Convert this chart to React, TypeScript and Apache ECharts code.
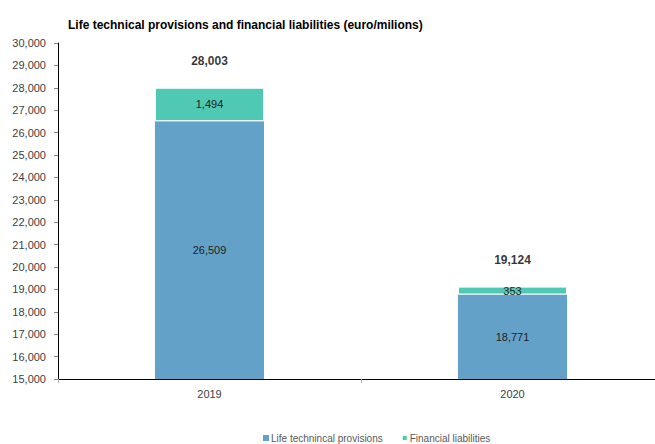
import React, { useEffect, useRef } from "react";
import * as echarts from "echarts";

const categories = ["2019", "2020"];
const lifeProvisions = [26509, 18771];
const financialLiabilities = [1494, 353];
const totals = [28003, 19124];
const seriesNames = ["Life technincal provisions", "Financial liabilities"];
const titleText = "Life technical provisions and financial liabilities (euro/milions)";

const fmt = (v: number) => v.toLocaleString("en-US");
const FONT = "Liberation Sans";

export default function App() {
  const ref = useRef<HTMLDivElement>(null);
  useEffect(() => {
    if (!ref.current) return;
    const chart = echarts.init(ref.current, undefined, { renderer: "svg" });
    chart.setOption({
      animation: false,
      backgroundColor: "#ffffff",
      title: {
        text: titleText,
        left: 63,
        top: 14,
        textStyle: { fontFamily: FONT, fontSize: 12, fontWeight: "bold", color: "#000" },
      },
      legend: {
        data: seriesNames,
        bottom: -4,
        left: 258,
        itemWidth: 6,
        itemHeight: 6,
        itemGap: 18,
        icon: "rect",
        textStyle: { fontFamily: FONT, fontSize: 10, color: "#595959", padding: [0, 0, 0, -3] },
      },
      grid: { left: 58, right: -9, top: 43, bottom: 65, outerBoundsMode: "none", containLabel: false },
      xAxis: {
        type: "category",
        data: categories,
        axisLine: { lineStyle: { color: "#000", width: 1 } },
        axisTick: { show: true, alignWithLabel: false, length: 4, lineStyle: { color: "#aaa" } },
        axisLabel: { fontFamily: FONT, fontSize: 11, color: "#404040", margin: 9 },
      },
      yAxis: {
        type: "value",
        min: 15000,
        max: 30000,
        interval: 1000,
        axisLine: { show: true, lineStyle: { color: "#000", width: 1 } },
        axisTick: { show: true, length: 4, lineStyle: { color: "#888" } },
        splitLine: { show: false },
        axisLabel: {
          fontFamily: FONT,
          fontSize: 11,
          color: "#404040",
          margin: 12,
          formatter: (v: number) => fmt(v),
        },
      },
      series: [
        {
          name: seriesNames[0],
          type: "bar",
          stack: "total",
          barWidth: "36%",
          data: lifeProvisions,
          itemStyle: { color: "#64A1C9" },
          label: {
            show: true,
            position: "inside",
            fontFamily: FONT,
            fontSize: 11,
            color: "#222",
            formatter: (p: any) => fmt(p.value),
          },
        },
        {
          name: seriesNames[1],
          type: "bar",
          stack: "total",
          data: financialLiabilities,
          itemStyle: { color: "#4FC9B3", borderColor: "#fff", borderWidth: 1 },
          label: {
            show: true,
            position: "inside",
            fontFamily: FONT,
            fontSize: 11,
            color: "#222",
            formatter: (p: any) => fmt(p.value),
          },
        },
        {
          name: "total",
          type: "scatter",
          data: totals,
          symbolSize: 0,
          label: {
            show: true,
            position: "top",
            distance: 21,
            fontFamily: FONT,
            fontSize: 12,
            fontWeight: "bold",
            color: "#000",
            formatter: (p: any) => fmt(p.value),
          },
        },
      ],
    });
    return () => chart.dispose();
  }, []);
  return <div ref={ref} style={{ width: 655, height: 444, position: "absolute", left: 0, top: 0 }} />;
}
